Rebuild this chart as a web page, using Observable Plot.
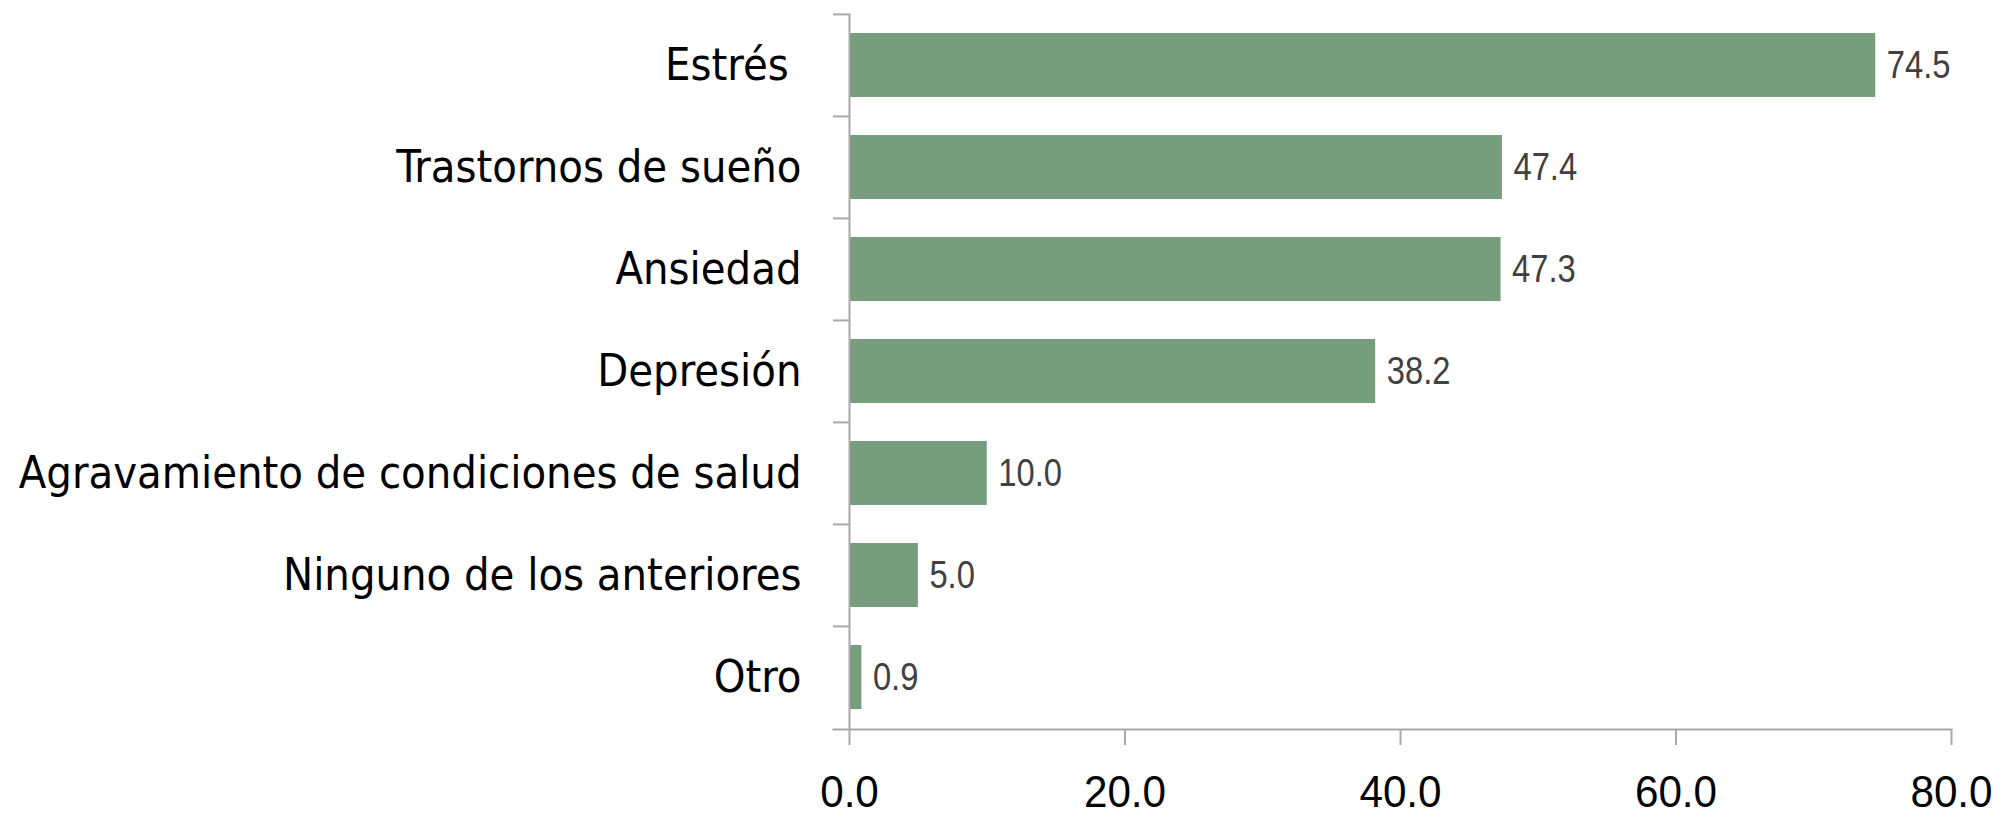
<!DOCTYPE html>
<html>
<head>
<meta charset="utf-8">
<script src="https://cdn.jsdelivr.net/npm/d3@7"></script>
<script src="https://cdn.jsdelivr.net/npm/@observablehq/plot@0.6"></script>
<style>
  html, body { margin: 0; padding: 0; background: #fff; }
</style>
</head>
<body>
<div id="chart"></div>
<script>
const categories = ["Estrés ", "Trastornos de sueño", "Ansiedad", "Depresión", "Agravamiento de condiciones de salud", "Ninguno de los anteriores", "Otro"];
const values = [74.5, 47.4, 47.3, 38.2, 10.0, 5.0, 0.9];
const xTicks = [0, 20, 40, 60, 80];

const data = categories.map((c, i) => ({category: c, value: values[i]}));

const width = 2003, height = 816;
const marginTop = 14, marginBottom = 87, marginLeft = 849, marginRight = 52;
const step = (height - marginTop - marginBottom) / categories.length;
const green = "#769e7d";
const axisGray = "#a8a8a8";
const labelFont = "'DejaVu Sans Condensed', 'DejaVu Sans', sans-serif";
const numFont = "'Liberation Sans', Arial, sans-serif";

const chart = Plot.plot({
  width, height, marginTop, marginBottom, marginLeft, marginRight,
  style: {background: "#fff"},
  x: {domain: [0, 80], axis: null},
  y: {domain: categories, paddingInner: 0.37, paddingOuter: 0.185, axis: null},
  marks: [
    Plot.barX(data, {x: "value", y: "category", fill: green}),
    Plot.frame({anchor: "left", stroke: axisGray, strokeWidth: 2}),
    Plot.frame({anchor: "bottom", stroke: axisGray, strokeWidth: 2, insetLeft: -16}),
    Plot.ruleY(categories, {y: d => d, x1: 0, x2: 0, dy: -step / 2, insetLeft: -16, stroke: axisGray, strokeWidth: 2}),
    Plot.axisX({ticks: xTicks, tickSize: 16, tickPadding: 30, tickFormat: d => d.toFixed(1),
      stroke: axisGray, strokeWidth: 2, fontSize: 44, fontFamily: numFont, fill: "#000", label: null}),
    Plot.axisY({tickSize: 0, tickPadding: 48, fontSize: 44.8, fontFamily: labelFont, fill: "#000",
      label: null, tickFormat: d => d.replace(/ $/, "\u00a0")}),
    Plot.text(data, {x: "value", y: "category", text: d => d.value.toFixed(1), textAnchor: "start",
      dx: 11, fontSize: 39, fontFamily: numFont, fill: "#404040"})
  ]
});

// Narrow the numeric labels horizontally to mimic the condensed numeral face of the original.
function condense(selector, s) {
  d3.select(chart).selectAll(selector).each(function () {
    const t = this.getAttribute("transform");
    if (t && /translate/.test(t)) {
      this.setAttribute("transform", t + ` scale(${s},1)`);
    } else {
      const x = +(this.getAttribute("x") || 0);
      this.setAttribute("transform", `translate(${x},0) scale(${s},1) translate(${-x},0)` + (t ? " " + t : ""));
    }
  });
}
condense('g[aria-label="text"] text', 0.84);
condense('g[aria-label="x-axis tick label"] text', 0.96);

document.getElementById("chart").appendChild(chart);
</script>
</body>
</html>
